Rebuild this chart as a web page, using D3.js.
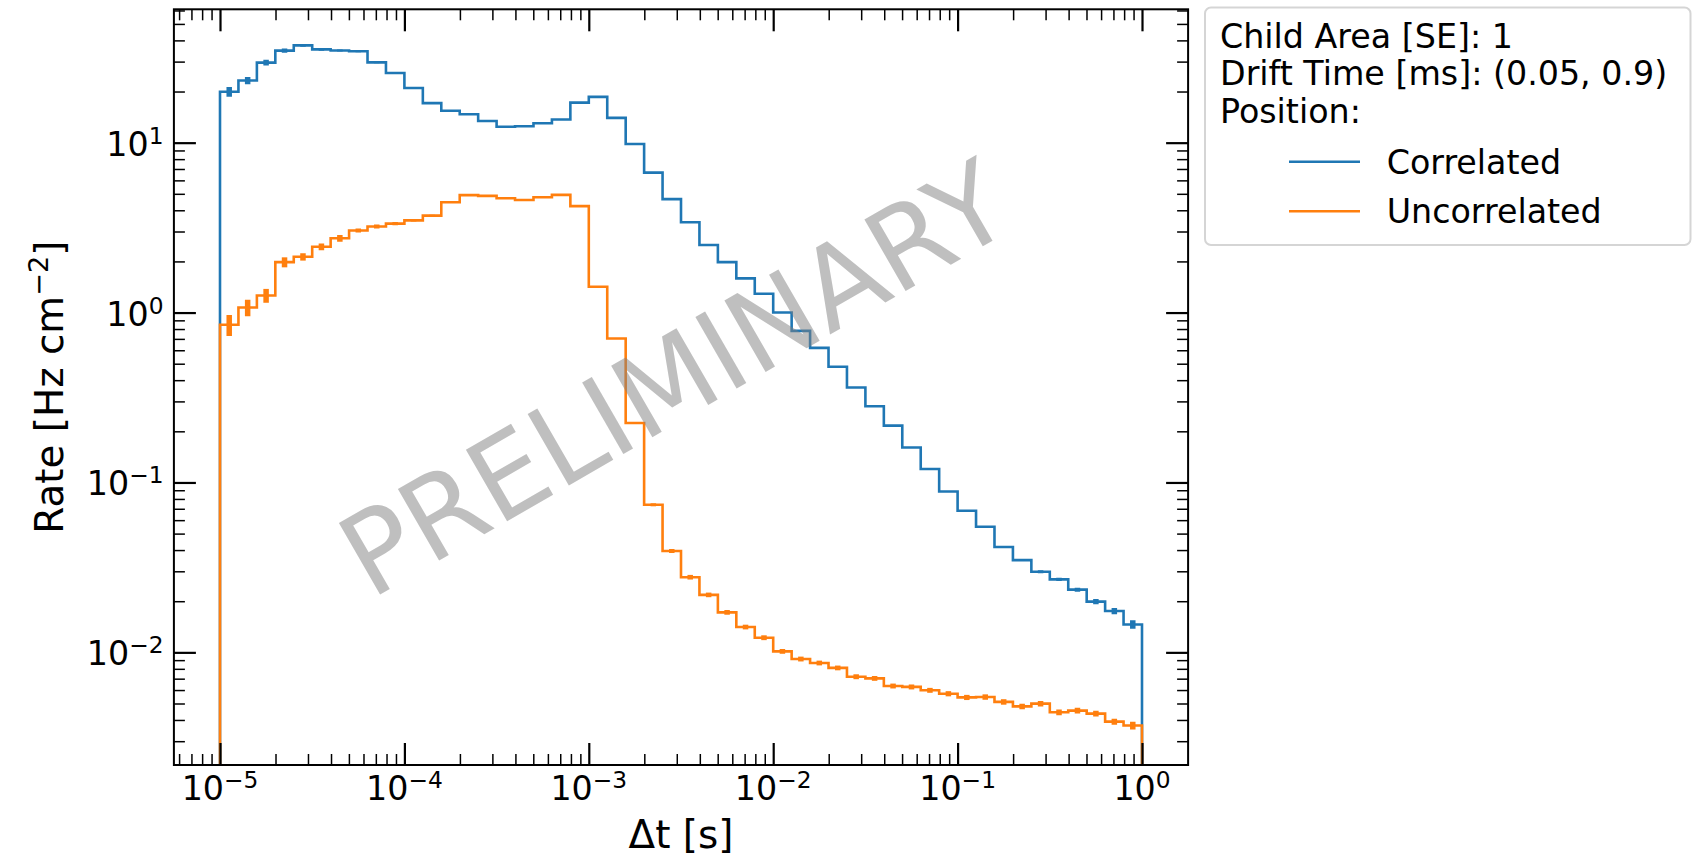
<!DOCTYPE html>
<html>
<head>
<meta charset="utf-8">
<script src="https://cdn.jsdelivr.net/npm/d3@7"></script>
<style>
  html, body { margin: 0; padding: 0; background: #ffffff; }
  svg { display: block; }
  text { font-family: "DejaVu Sans", sans-serif; fill: #000; }
</style>
</head>
<body>
<svg id="chart" width="1702" height="858"></svg>
<script>
// ---------------- data ----------------
// 50 logarithmic bins, 10 per decade, from 1e-5 s to 1 s
const binEdges = d3.range(51).map(i => Math.pow(10, -5 + i / 10));

const correlatedRate = [
  19.95, 23.2, 29.6, 34.8, 37.4, 35.4, 34.9, 34.5, 29.7, 25.7,
  21.0, 17.1, 15.4, 14.7, 13.4, 12.4, 12.5, 13.0, 13.7, 17.2,
  18.6, 14.0, 9.83, 6.66, 4.65, 3.40, 2.50, 1.98, 1.59, 1.29,
  1.00, 0.780, 0.620, 0.480, 0.362, 0.281, 0.216, 0.1606, 0.120, 0.0885,
  0.0682, 0.0549, 0.0417, 0.0349, 0.0298, 0.0269, 0.0234, 0.0199, 0.0175, 0.0146
];
const correlatedErr = [
  1.3, 1.16, 1.15, 1.0, 0.67, 0.6, 0.5, 0.4, 0.4, 0.35,
  0.08, 0.07, 0.06, 0.06, 0.05, 0.05, 0.05, 0.05, 0.05, 0.06,
  0.06, 0.05, 0.035, 0.025, 0.018, 0.013, 0.01, 0.008, 0.006, 0.005,
  0.004, 0.003, 0.0025, 0.002, 0.0015, 0.0011, 0.0009, 0.0007, 0.0005, 0.0004,
  0.0003, 0.00025, 0.0002, 0.0002, 0.0006, 0.0006, 0.00063, 0.00068, 0.00072, 0.00085
];
const uncorrelatedRate = [
  0.847, 1.07, 1.26, 1.98, 2.13, 2.44, 2.74, 3.04, 3.21, 3.34,
  3.49, 3.72, 4.46, 4.91, 4.86, 4.71, 4.60, 4.77, 4.93, 4.23,
  1.42, 0.703, 0.224, 0.0739, 0.0395, 0.0277, 0.0218, 0.0172, 0.0141, 0.0122,
  0.01014, 0.00914, 0.00866, 0.00810, 0.00719, 0.00703, 0.00634, 0.00626, 0.00598, 0.00571,
  0.00543, 0.00546, 0.00511, 0.00481, 0.00499, 0.00444, 0.00454, 0.00436, 0.00391, 0.00371
];
const uncorrelatedErr = [
  0.12, 0.12, 0.118, 0.134, 0.108, 0.112, 0.126, 0.083, 0.087, 0.07,
  0.05, 0.045, 0.015, 0.015, 0.015, 0.015, 0.015, 0.015, 0.015, 0.012,
  0.005, 0.003, 0.0012, 0.0015, 0.00107, 0.00087, 0.00068, 0.00055, 0.00045, 0.0004,
  0.00033, 0.0003, 0.00028, 0.00026, 0.00024, 0.00023, 0.00021, 0.00021, 0.0002, 0.0002,
  0.00019, 0.0002, 0.00019, 0.00018, 0.00019, 0.00017, 0.00018, 0.00017, 0.00016, 0.00019
];

const seriesNames = ["Correlated", "Uncorrelated"];
const seriesColors = ["#1f77b4", "#ff7f0e"];
const xTickExponents = [-5, -4, -3, -2, -1, 0];
const yTickExponents = [-2, -1, 0, 1];
const legendTitleLines = ["Child Area [SE]: 1", "Drift Time [ms]: (0.05, 0.9)", "Position:"];
const xLabel = "\u0394t [s]";
const watermark = "PRELIMINARY";

// ---------------- layout ----------------
const svg = d3.select("#chart");
const L = 173.9, R = 1188.1, T = 9.3, B = 765;
const x = d3.scaleLog().domain([Math.pow(10, -5.25), Math.pow(10, 0.25)]).range([L, R]);
const y = d3.scaleLog().domain([Math.pow(10, -2.663), Math.pow(10, 1.785)]).range([B, T]);

svg.append("rect").attr("width", 1702).attr("height", 858).attr("fill", "#fff");

svg.append("defs").append("clipPath").attr("id", "plotclip")
  .append("rect").attr("x", L).attr("y", T).attr("width", R - L).attr("height", B - T);

const plot = svg.append("g").attr("clip-path", "url(#plotclip)");

function stepPath(vals) {
  const pts = [[x(binEdges[0]), B + 5]];
  vals.forEach((v, i) => {
    pts.push([x(binEdges[i]), y(v)]);
    pts.push([x(binEdges[i + 1]), y(v)]);
  });
  pts.push([x(binEdges[binEdges.length - 1]), B + 5]);
  return d3.line()(pts);
}

function drawSeries(vals, errs, color) {
  plot.append("path").attr("d", stepPath(vals))
    .attr("fill", "none").attr("stroke", color).attr("stroke-width", 2.6)
    .attr("stroke-linejoin", "miter");
  plot.append("g").selectAll("line").data(vals).join("line")
    .attr("x1", (v, i) => x(Math.sqrt(binEdges[i] * binEdges[i + 1])))
    .attr("x2", (v, i) => x(Math.sqrt(binEdges[i] * binEdges[i + 1])))
    .attr("y1", (v, i) => y(v + errs[i]))
    .attr("y2", (v, i) => y(Math.max(v - errs[i], 1e-9)))
    .attr("stroke", color).attr("stroke-width", 5.5).attr("stroke-linecap", "butt");
}

drawSeries(correlatedRate, correlatedErr, seriesColors[0]);
drawSeries(uncorrelatedRate, uncorrelatedErr, seriesColors[1]);

// watermark
svg.append("text")
  .attr("transform", `translate(${(L + R) / 2 - 2},${(T + B) / 2}) rotate(-30)`)
  .attr("text-anchor", "middle")
  .attr("dy", 30)
  .attr("font-size", 113)
  .style("fill", "#808080")
  .style("fill-opacity", 0.5)
  .text(watermark);

// ---------------- axes / ticks ----------------
const xMajor = xTickExponents.map(e => Math.pow(10, e));
const yMajor = yTickExponents.map(e => Math.pow(10, e));
const xMinor = [], yMinor = [];
for (let d = -6; d <= 0; d++) for (let m = 2; m <= 9; m++) {
  const v = m * Math.pow(10, d);
  if (v >= x.domain()[0] && v <= x.domain()[1]) xMinor.push(v);
}
for (let d = -3; d <= 1; d++) for (let m = 2; m <= 9; m++) {
  const v = m * Math.pow(10, d);
  if (v >= y.domain()[0] && v <= y.domain()[1]) yMinor.push(v);
}

function addAxis(axisGen, tx, ty, vals, size, width) {
  const g = svg.append("g").attr("transform", `translate(${tx},${ty})`)
    .call(axisGen.tickValues(vals).tickSize(size).tickSizeOuter(0).tickFormat(""));
  g.select(".domain").remove();
  g.selectAll(".tick line").attr("stroke", "#000").attr("stroke-width", width);
  return g;
}
// bottom & top (inward)
addAxis(d3.axisBottom(x), 0, B, xMinor, -11, 1.5);
addAxis(d3.axisBottom(x), 0, B, xMajor, -22, 2.2);
addAxis(d3.axisTop(x), 0, T, xMinor, -11, 1.5);
addAxis(d3.axisTop(x), 0, T, xMajor, -22, 2.2);
// left & right (inward)
addAxis(d3.axisLeft(y), L, 0, yMinor, -11, 1.5);
addAxis(d3.axisLeft(y), L, 0, yMajor, -22, 2.2);
addAxis(d3.axisRight(y), R, 0, yMinor, -11, 1.5);
addAxis(d3.axisRight(y), R, 0, yMajor, -22, 2.2);

// frame
svg.append("rect").attr("x", L).attr("y", T).attr("width", R - L).attr("height", B - T)
  .attr("fill", "none").attr("stroke", "#000").attr("stroke-width", 2);

// tick labels
const tickFont = 33.3, supFont = 23.3, supRaise = 12;
xTickExponents.forEach(e => {
  const t = svg.append("text").attr("x", x(Math.pow(10, e))).attr("y", 800)
    .attr("text-anchor", "middle").attr("font-size", tickFont);
  t.append("tspan").text("10");
  t.append("tspan").attr("dy", -supRaise).attr("font-size", supFont)
    .text(e < 0 ? "\u2212" + Math.abs(e) : String(e));
});
yTickExponents.forEach(e => {
  const t = svg.append("text").attr("x", 163.5).attr("y", y(Math.pow(10, e)) + 13)
    .attr("text-anchor", "end").attr("font-size", tickFont);
  t.append("tspan").text("10");
  t.append("tspan").attr("dy", -supRaise).attr("font-size", supFont)
    .text(e < 0 ? "\u2212" + Math.abs(e) : String(e));
});

// axis labels
svg.append("text").attr("x", (L + R) / 2).attr("y", 848)
  .attr("text-anchor", "middle").attr("font-size", 38.9).text(xLabel);

const yl = svg.append("text")
  .attr("transform", `translate(63.3,${(T + B) / 2}) rotate(-90)`)
  .attr("text-anchor", "middle").attr("font-size", 38.9);
yl.append("tspan").text("Rate [Hz cm");
yl.append("tspan").attr("dy", -15).attr("font-size", 27.2).text("\u22122");
yl.append("tspan").attr("dy", 15).text("]");

// ---------------- legend ----------------
const lg = svg.append("g");
lg.append("rect").attr("x", 1205).attr("y", 7.5).attr("width", 485.5).attr("height", 237.5)
  .attr("rx", 6).attr("fill", "#fff").attr("stroke", "#d5d5d5").attr("stroke-width", 2);
const legendFont = 33.3;
legendTitleLines.forEach((s, i) => {
  lg.append("text").attr("x", 1220).attr("y", 47.7 + i * 37.5)
    .attr("font-size", legendFont).text(s);
});
seriesNames.forEach((s, i) => {
  const cy = 161.7 + i * 49.5;
  lg.append("line").attr("x1", 1289).attr("x2", 1360).attr("y1", cy).attr("y2", cy)
    .attr("stroke", seriesColors[i]).attr("stroke-width", 2.6);
  lg.append("text").attr("x", 1386.7).attr("y", cy + 12.1)
    .attr("font-size", legendFont).text(s);
});
</script>
</body>
</html>
